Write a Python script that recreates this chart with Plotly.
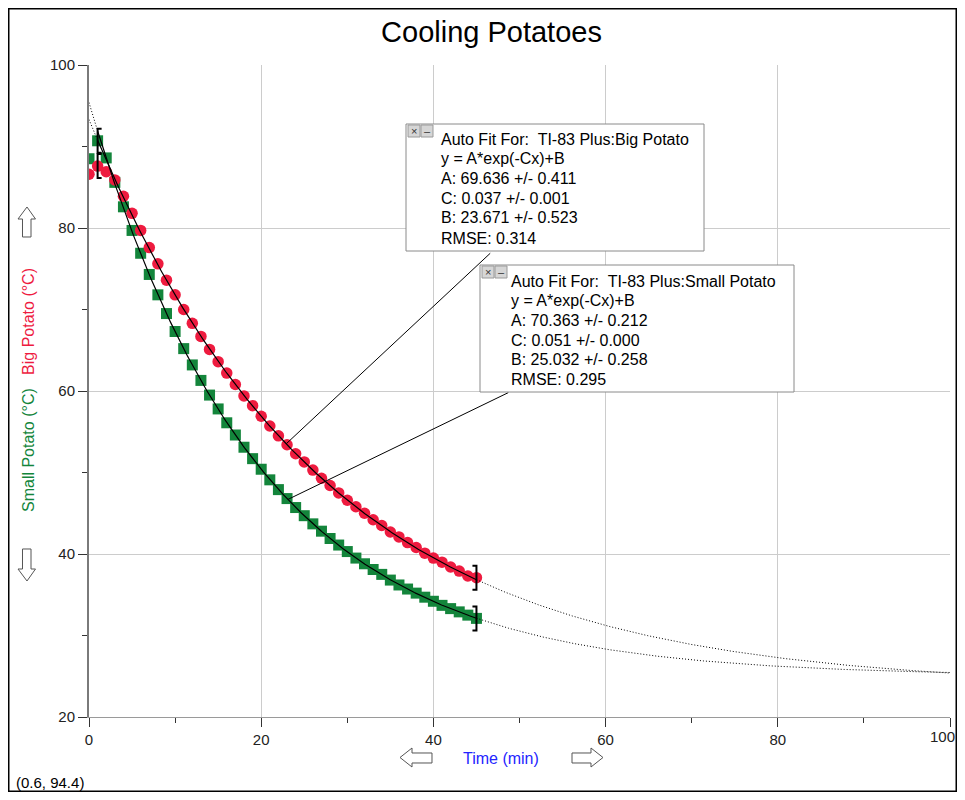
import numpy as np
import plotly.graph_objects as go

# ---------------- data ----------------
TIME = list(range(0, 46))  # minutes
BIG_POTATO = [86.6, 87.6, 86.9, 85.9, 83.9, 81.8, 79.7, 77.6, 75.6, 73.6,
              71.8, 70.0, 68.3, 66.7, 65.1, 63.6, 62.2, 60.8, 59.4, 58.2,
              56.9, 55.7, 54.5, 53.4, 52.3, 51.3, 50.3, 49.3, 48.4, 47.5,
              46.6, 45.8, 45.0, 44.2, 43.5, 42.7, 42.1, 41.4, 40.8, 40.1,
              39.5, 39.0, 38.4, 37.9, 37.3, 37.1]
SMALL_POTATO = [88.5, 90.7, 88.6, 85.6, 82.6, 79.7, 76.9, 74.3, 71.8, 69.5,
                67.3, 65.2, 63.2, 61.3, 59.5, 57.8, 56.1, 54.6, 53.1, 51.7,
                50.4, 49.1, 47.9, 46.8, 45.7, 44.7, 43.7, 42.8, 41.9, 41.1,
                40.3, 39.5, 38.8, 38.1, 37.5, 36.8, 36.2, 35.7, 35.2, 34.7,
                34.2, 33.7, 33.3, 32.9, 32.5, 32.1]

# fit parameters shown in the chart: y = A*exp(-Cx)+B
BIG_FIT = dict(A=69.636, C=0.037, B=23.671)
SMALL_FIT = dict(A=70.363, C=0.051, B=25.032)
FIT_START_IDX, FIT_END_IDX = 1, 45
CALLOUT_X = 22.9

BIG_TEXT = ["Auto Fit For:\u00a0 TI-83 Plus:Big Potato", "y = A*exp(-Cx)+B",
            "A: 69.636 +/- 0.411", "C: 0.037 +/- 0.001",
            "B: 23.671 +/- 0.523", "RMSE: 0.314"]
SMALL_TEXT = ["Auto Fit For:\u00a0 TI-83 Plus:Small Potato", "y = A*exp(-Cx)+B",
              "A: 70.363 +/- 0.212", "C: 0.051 +/- 0.000",
              "B: 25.032 +/- 0.258", "RMSE: 0.295"]

X_TICKS = [0, 20, 40, 60, 80, 100]
X_TICK_LABELS = ["0", "20", "40", "60", "80", "100"]
Y_TICKS = [20, 40, 60, 80, 100]

RED = "#ee1b3f"
GREEN = "#13853b"
FONT = "Arial, 'Liberation Sans', sans-serif"

# ---------------- layout helpers ----------------
# page coordinates (the page body adds an 8px margin on each side)
OFF = 8
PAGE_W, PAGE_H = 965, 800
W, H = PAGE_W - 2 * OFF, PAGE_H - 2 * OFF
L, R, T, B = 89, 950, 65, 717   # plot area in page pixels


def px(x):
    return (x - L) / (R - L)


def py(y):
    return (B - y) / (B - T)


def fit(p, x):
    return p["A"] * np.exp(-p["C"] * np.asarray(x, dtype=float)) + p["B"]


fig = go.Figure()

# data markers
fig.add_trace(go.Scatter(x=TIME, y=SMALL_POTATO, mode="markers",
                         marker=dict(symbol="square", size=11, color=GREEN),
                         name="Small Potato"))
fig.add_trace(go.Scatter(x=TIME, y=BIG_POTATO, mode="markers",
                         marker=dict(symbol="circle", size=11.5, color=RED),
                         name="Big Potato"))

x0 = TIME[0]
xs = TIME[FIT_START_IDX]
xe = TIME[FIT_END_IDX]
x_solid = np.linspace(xs, xe, 300)
x_pre = np.linspace(x0, xs, 20)
x_post = np.linspace(xe, X_TICKS[-1], 400)

for p in (BIG_FIT, SMALL_FIT):
    fig.add_trace(go.Scatter(x=x_solid, y=fit(p, x_solid), mode="lines",
                             line=dict(color="black", width=1.2)))
    xd = np.concatenate([x_pre, [np.nan], x_post])
    yd = np.concatenate([fit(p, x_pre), [np.nan], fit(p, x_post)])
    fig.add_trace(go.Scatter(x=xd, y=yd, mode="lines", connectgaps=False,
                             line=dict(color="black", width=1, dash="1px,2px")))

shapes = []
annotations = []

# brackets at fit range ends
for series in (BIG_POTATO, SMALL_POTATO):
    for idx, d in ((FIT_START_IDX, 1), (FIT_END_IDX, -1)):
        xa = TIME[idx]
        ya = series[idx]
        path = f"M {4*d},12 L 0,12 L 0,-12 L {4*d},-12"
        shapes.append(dict(type="path", xref="x", yref="y",
                           xsizemode="pixel", ysizemode="pixel",
                           xanchor=xa, yanchor=ya, path=path,
                           line=dict(color="black", width=2), layer="above"))

# callout lines
big_anchor = (CALLOUT_X, float(fit(BIG_FIT, CALLOUT_X)))
small_anchor = (CALLOUT_X + 0.2, float(fit(SMALL_FIT, CALLOUT_X + 0.2)))
shapes.append(dict(type="line", xref="x", yref="y",
                   x0=big_anchor[0], y0=big_anchor[1], x1=46.6, y1=76.9,
                   line=dict(color="black", width=1), layer="above"))
shapes.append(dict(type="line", xref="x", yref="y",
                   x0=small_anchor[0], y0=small_anchor[1], x1=48.7, y1=59.8,
                   line=dict(color="black", width=1), layer="above"))


def add_box(bx0, by0, bx1, by1, text_x, line_ys, lines):
    shapes.append(dict(type="rect", xref="paper", yref="paper",
                       x0=px(bx0), x1=px(bx1), y0=py(by1), y1=py(by0),
                       fillcolor="white", line=dict(color="#8a8a8a", width=1),
                       layer="above"))
    # close / minimise icons
    for i, sym in enumerate(["×", "–"]):
        ix = bx0 + 2 + i * 13
        shapes.append(dict(type="rect", xref="paper", yref="paper",
                           x0=px(ix), x1=px(ix + 12), y0=py(by0 + 13), y1=py(by0 + 1),
                           fillcolor="#d6d6d6", line=dict(color="#9a9a9a", width=1),
                           layer="above"))
        annotations.append(dict(xref="paper", yref="paper", x=px(ix + 6), y=py(by0 + 7),
                                text=sym, showarrow=False, xanchor="center",
                                yanchor="middle",
                                font=dict(family=FONT, size=11, color="#333")))
    for ly, t in zip(line_ys, lines):
        annotations.append(dict(xref="paper", yref="paper", x=px(text_x), y=py(ly),
                                text=t, showarrow=False, xanchor="left",
                                yanchor="middle", align="left",
                                font=dict(family=FONT, size=16, color="black")))


add_box(406, 124, 704, 251, 439, [139, 158.5, 178.5, 198.5, 218, 238], BIG_TEXT)
add_box(480, 265, 794, 392, 509, [281, 300.5, 320.5, 340, 359.5, 379], SMALL_TEXT)


def arrow(points):
    pts = [(px(a), py(b)) for a, b in points]
    d = "M " + " L ".join(f"{a:.5f},{b:.5f}" for a, b in pts) + " Z"
    shapes.append(dict(type="path", xref="paper", yref="paper", path=d,
                       fillcolor="white", line=dict(color="#555", width=1),
                       layer="above"))


# up / down arrows on the y axis, left / right arrows under the x axis
arrow([(27, 207), (35.5, 219), (31, 219), (31, 237), (22.5, 237), (22.5, 219), (18, 219)])
arrow([(27, 581), (35.5, 569), (31, 569), (31, 549), (22.5, 549), (22.5, 569), (18, 569)])
arrow([(400, 757.5), (412, 748), (412, 753), (432, 753), (432, 763), (412, 763), (412, 767)])
arrow([(603, 757.5), (591, 748), (591, 753), (572, 753), (572, 763), (591, 763), (591, 767)])

# y axis title (two coloured parts)
annotations.append(dict(xref="paper", yref="paper", x=px(28), y=py(390),
                        text=f"<span style='color:{GREEN}'>Small Potato (°C)</span>"
                             f"\u00a0\u00a0 <span style='color:{RED}'>Big Potato (°C)</span>",
                        textangle=-90, showarrow=False, xanchor="center", yanchor="middle",
                        font=dict(family=FONT, size=16)))
# x axis title
annotations.append(dict(xref="paper", yref="paper", x=px(501), y=py(758),
                        text="Time (min)", showarrow=False, xanchor="center",
                        yanchor="middle", font=dict(family=FONT, size=16, color="#2424ff")))
# last x tick label, kept fully inside the page edge
annotations.append(dict(xref="paper", yref="paper", x=px(956.5), y=py(736),
                        text=X_TICK_LABELS[-1], showarrow=False, xanchor="right",
                        yanchor="middle", font=dict(family=FONT, size=15, color="#222")))
# cursor readout
annotations.append(dict(xref="paper", yref="paper", x=px(14), y=py(782),
                        text="(0.6, 94.4)", showarrow=False, xanchor="left",
                        yanchor="middle", font=dict(family=FONT, size=15, color="black")))

# outer frame
shapes.append(dict(type="rect", xref="paper", yref="paper",
                   x0=px(8.75), x1=px(956.25), y0=py(791.25), y1=py(8.75),
                   line=dict(color="black", width=1.5), fillcolor="rgba(0,0,0,0)",
                   layer="below"))

fig.update_layout(
    width=W, height=H,
    margin=dict(l=L - OFF, r=(W + OFF) - R, t=T - OFF, b=(H + OFF) - B),
    paper_bgcolor="white", plot_bgcolor="white",
    showlegend=False,
    title=dict(text="Cooling Potatoes", x=(491.5 - OFF) / W, xref="container",
               xanchor="center", y=1 - (32 - OFF) / H, yref="container", yanchor="middle",
               font=dict(family=FONT, size=29, color="black")),
    font=dict(family=FONT, size=15, color="#222"),
    shapes=shapes, annotations=annotations,
)
fig.update_xaxes(range=[X_TICKS[0], X_TICKS[-1]], tickvals=X_TICKS,
                 ticktext=X_TICK_LABELS[:-1] + [""], showgrid=True,
                 automargin=False,
                 gridcolor="#cccccc", gridwidth=1, zeroline=False,
                 showline=True, linecolor="#9a9a9a", linewidth=1,
                 ticks="outside", ticklen=9, tickcolor="#333",
                 minor=dict(dtick=10, ticks="outside", ticklen=5, tickcolor="#333",
                            showgrid=False),
                 tickfont=dict(family=FONT, size=15, color="#222"))
fig.update_yaxes(range=[Y_TICKS[0], Y_TICKS[-1]], tickvals=Y_TICKS, showgrid=True,
                 automargin=False,
                 gridcolor="#cccccc", gridwidth=1, zeroline=False,
                 showline=True, linecolor="#7a7a7a", linewidth=2,
                 ticks="outside", ticklen=9, tickcolor="#333",
                 minor=dict(dtick=10, ticks="outside", ticklen=5, tickcolor="#333",
                            showgrid=False),
                 tickfont=dict(family=FONT, size=15, color="#222"))

fig.write_html("out.html")
